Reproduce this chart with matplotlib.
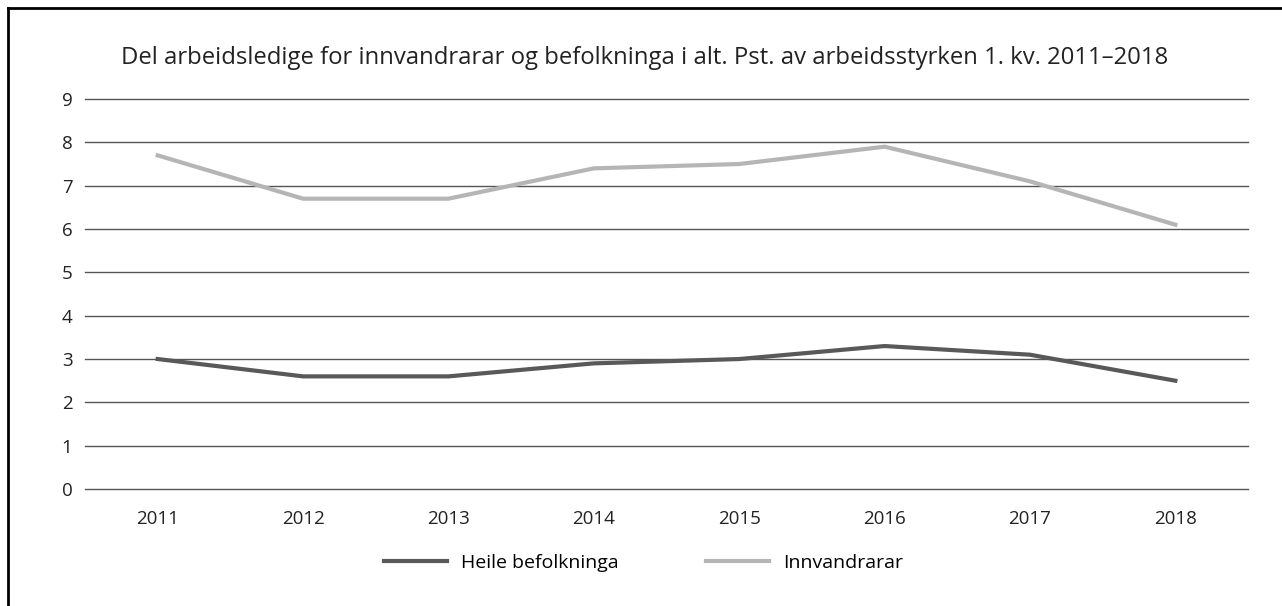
import matplotlib
matplotlib.use("Agg")
import matplotlib.pyplot as plt
from matplotlib.lines import Line2D

plt.rcParams['font.family'] = ['Open Sans', 'DejaVu Sans']

# data
years = ['2011', '2012', '2013', '2014', '2015', '2016', '2017', '2018']
heile = [3.0, 2.6, 2.6, 2.9, 3.0, 3.3, 3.1, 2.5]
innvandrarar = [7.7, 6.7, 6.7, 7.4, 7.5, 7.9, 7.1, 6.1]
series_names = ['Heile befolkninga', 'Innvandrarar']
title = 'Del arbeidsledige for innvandrarar og befolkninga i alt. Pst. av arbeidsstyrken 1. kv. 2011–2018'

fig = plt.figure(figsize=(12.82, 6.06), dpi=100)
ax = fig.add_axes([0.0663, 0.193, 0.9072, 0.6436])

x = range(len(years))
ax.plot(x, heile, color='#595959', linewidth=3, label=series_names[0], zorder=3)
ax.plot(x, innvandrarar, color='#b5b5b5', linewidth=3, label=series_names[1], zorder=3)

ax.set_xlim(-0.5, len(years) - 0.5)
ax.set_ylim(0, 9)
ax.set_yticks(range(0, 10))
ax.set_xticks(list(x))
ax.set_xticklabels(years)
ax.grid(axis='y', color='#555555', linewidth=1)
for gl in ax.get_ygridlines():
    gl.set_clip_on(False)
ax.set_axisbelow(True)
for s in ax.spines.values():
    s.set_visible(False)
ax.tick_params(axis='both', length=0, labelsize=13.5, colors='#222222')
ax.tick_params(axis='y', pad=9)
ax.tick_params(axis='x', pad=15)

fig.text(0.503, 0.905, title, ha='center', va='center', fontsize=17.2, color='#222222')

fig.legend(loc='center', bbox_to_anchor=(0.502, 0.071), ncol=2, frameon=False,
           fontsize=14, handlelength=3.25, handletextpad=0.72, columnspacing=4.5)

# frame on left and top edge
fig.add_artist(Line2D([0.0065, 0.0065], [0, 0.987], transform=fig.transFigure, color='black', linewidth=2))
fig.add_artist(Line2D([0.0065, 1.0], [0.987, 0.987], transform=fig.transFigure, color='black', linewidth=2))

fig.savefig('out.png', dpi=100, facecolor='white')
